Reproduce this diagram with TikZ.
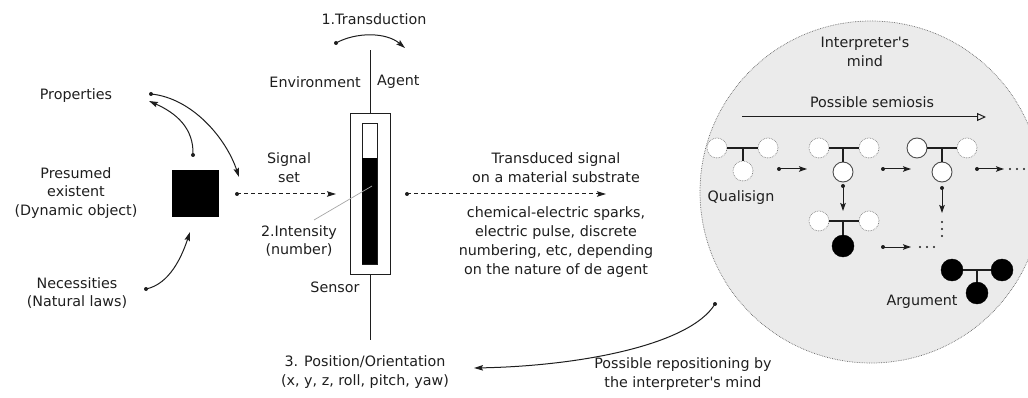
\documentclass[tikz,border=0pt]{standalone}
\usepackage{fontspec}
\setmainfont{DejaVu Sans}[Ligatures=TeXOff]
\usetikzlibrary{arrows.meta}
\definecolor{ink}{HTML}{1E1E1E}
\definecolor{mindfill}{HTML}{EBEBEB}
\tikzset{
  lbl/.style={text=ink, align=center, inner sep=0pt, font=\fontsize{14.3}{18.8}\selectfont},
  conn/.style={draw=ink, line width=1pt, -{Stealth[length=9pt,width=5.5pt,inset=1.5pt]}},
  dconn/.style={conn, dash pattern=on 4pt off 3pt},
  sconn/.style={draw=ink, line width=1pt, -{Stealth[length=8pt,width=5.5pt,inset=1.5pt]}},
  tail/.style={fill=ink},
  open/.style={circle, minimum size=20pt, inner sep=0pt, fill=white, draw=gray, line width=0.7pt, densely dotted},
  firm/.style={circle, minimum size=20pt, inner sep=0pt, fill=white, draw=ink!80, line width=0.9pt},
  solid/.style={circle, minimum size=22pt, inner sep=0pt, fill=black, draw=black},
  tee/.style={draw=ink, line width=1.4pt},
  dotmark/.style={fill=ink},
}
\newcommand{\tailat}[1]{\fill[tail] (#1) circle[radius=2pt];}
\begin{document}
\begin{tikzpicture}[x=1pt,y=-1pt]
\useasboundingbox (0,0) rectangle (1028,398);
\clip (0,0) rectangle (1028,398);

% interpreter's mind
\fill[mindfill] (871,192) circle[radius=171pt];
\draw[gray!80!black, line width=0.7pt, densely dotted] (871,192) circle[radius=171pt];

% left side: the dynamic object
\node[lbl] (props) at (76,96) {Properties};
\node[lbl] (presumed) at (76,193) {Presumed\\existent\\(Dynamic object)};
\node[lbl] (necess) at (77,293) {Necessities\\(Natural laws)};
\node[fill=black, minimum size=47pt, inner sep=0pt] (obj) at (195.5,193.5) {};

\coordinate (p1) at (151,94);
\coordinate (p2) at (239,177);
\coordinate (p3) at (193,155);
\coordinate (p4) at (149,101);
\coordinate (n1) at (146,289);
\coordinate (n2) at (190,232);
\draw[conn] (p1) .. controls (192,98) and (226,138) .. (p2);
\draw[conn] (p3) .. controls (194,128) and (176,113) .. (p4);
\draw[conn] (n1) .. controls (170,284) and (182,256) .. (n2);
\tailat{p1} \tailat{p3} \tailat{n1}

% sensor
\node[lbl] (transd) at (374,19) {1.Transduction};
\coordinate (t1) at (336,43);
\coordinate (t2) at (405,48);
\draw[conn] (t1) .. controls (356,32) and (386,32) .. (t2);
\tailat{t1}

\node[draw=ink, fill=white, line width=1pt, minimum width=40pt, minimum height=161pt, inner sep=0pt] (sensor) at (370,194) {};
\coordinate (axtop) at (370,50);
\coordinate (axbot) at (370,340);
\draw[ink, line width=1pt] (sensor.north) -- (axtop);
\draw[ink, line width=1pt] (sensor.south) -- (axbot);
\node[draw=ink, fill=white, line width=1pt, minimum width=15pt, minimum height=140pt, inner sep=0pt] (tube) at (369.5,194) {};
\fill[black] (362,158) rectangle (377,264);

\node[lbl, anchor=east] (env) at (361,82) {Environment};
\node[lbl, anchor=west] (agent) at (377,82) {Agent};
\node[lbl] (sensorlbl) at (335,287) {Sensor};

\node[lbl] (sigset) at (289,168) {Signal\\set};
\coordinate (s1) at (237,194);
\coordinate (s2) at (336,194);
\draw[dconn] (s1) -- (s2);
\tailat{s1}

\node[lbl] (intens) at (299,241) {2.Intensity\\(number)};
\coordinate (i1) at (314,220);
\coordinate (i2) at (372,186);
\draw[gray!70, line width=0.7pt] (i1) -- (i2);

\node[lbl] (pos) at (365,372) {3. Position/Orientation\\(x, y, z, roll, pitch, yaw)};

% transduced signal
\node[lbl] (tsig) at (556,168) {Transduced signal\\on a material substrate};
\coordinate (d1) at (407,194);
\coordinate (d2) at (606,194);
\draw[dconn] (d1) -- (d2);
\tailat{d1}
\node[lbl] (chem) at (556,242) {chemical-electric sparks,\\electric pulse, discrete\\numbering, etc, depending\\on the nature of de agent};

% repositioning
\node[lbl] (repos) at (683,374) {Possible repositioning by\\the interpreter's mind};
\coordinate (r1) at (715,304);
\coordinate (r2) at (474,368);
\draw[conn] (r1) .. controls (690,345) and (580,366) .. (r2);
\tailat{r1}

% inside the mind
\node[lbl] (mind) at (865,52) {Interpreter's\\mind};
\node[lbl] (semio) at (872,102) {Possible semiosis};
\coordinate (m1) at (742,117);
\coordinate (m2) at (986,117);
\draw[draw=ink, line width=1pt, -{Triangle[open,length=9pt,width=8pt]}] (m1) -- (m2);

% qualisign
\node[open] (a1) at (717,148) {};
\node[open] (a2) at (768,148) {};
\node[open] (a3) at (743,171) {};
\draw[tee] (a1) -- (a2);
\draw[tee] (a3) -- (a3 |- a1);
\node[lbl] (quali) at (741,198) {Qualisign};

% second step
\node[open] (b1) at (819,148) {};
\node[open] (b2) at (869,148) {};
\node[firm] (b3) at (843,172) {};
\draw[tee] (b1) -- (b2);
\draw[tee] (b3) -- (b3 |- b1);

% branch below
\node[open] (c1) at (819,221) {};
\node[open] (c2) at (869,221) {};
\node[solid] (c3) at (843,246) {};
\draw[tee] (c1) -- (c2);
\draw[tee] (c3) -- (c3 |- c1);

% third step
\node[firm] (e1) at (917,148) {};
\node[open] (e2) at (967,148) {};
\node[firm] (e3) at (942,172) {};
\draw[tee] (e1) -- (e2);
\draw[tee] (e3) -- (e3 |- e1);

% argument
\node[solid] (g1) at (952,270) {};
\node[solid] (g2) at (1002,270) {};
\node[solid] (g3) at (977,293) {};
\draw[tee] (g1) -- (g2);
\draw[tee] (g3) -- (g3 |- g1);
\node[lbl] (argum) at (922,302) {Argument};

% steps between signs
\coordinate (q1) at (779,169);
\coordinate (q2) at (807,169);
\coordinate (q3) at (883,169);
\coordinate (q4) at (911,169);
\coordinate (q5) at (977,169);
\coordinate (q6) at (1004,169);
\coordinate (q7) at (883,247);
\coordinate (q8) at (911,247);
\coordinate (v1) at (843,186);
\coordinate (v2) at (843,211);
\coordinate (v3) at (942,188);
\coordinate (v4) at (942,213);
\draw[sconn] (q1) -- (q2);
\draw[sconn] (q3) -- (q4);
\draw[sconn] (q5) -- (q6);
\draw[sconn] (q7) -- (q8);
\draw[sconn] (v1) -- (v2);
\draw[sconn] (v3) -- (v4);
\tailat{q1} \tailat{q3} \tailat{q5} \tailat{q7} \tailat{v1} \tailat{v3}

% ellipses
\foreach \x in {1010,1017,1024} \fill[dotmark] (\x,169) circle[radius=1.2pt];
\foreach \x in {920,927,934} \fill[dotmark] (\x,247) circle[radius=1.2pt];
\foreach \y in {222,229,236} \fill[dotmark] (942,\y) circle[radius=1.2pt];
\end{tikzpicture}
\end{document}
